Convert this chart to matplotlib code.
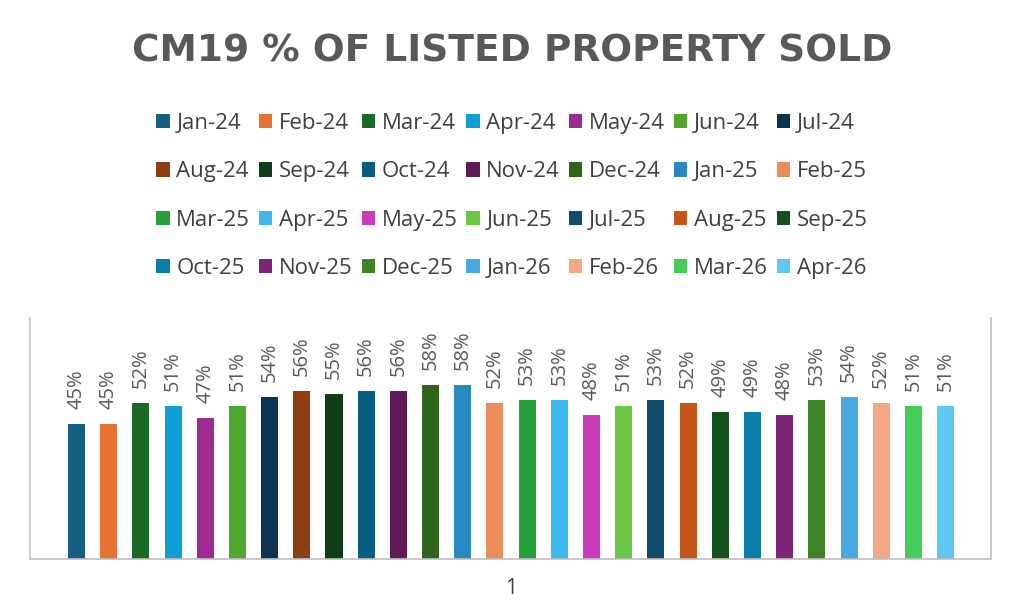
import matplotlib
matplotlib.use("Agg")
import matplotlib.pyplot as plt
from matplotlib.patches import Patch

months = ["Jan-24", "Feb-24", "Mar-24", "Apr-24", "May-24", "Jun-24", "Jul-24",
          "Aug-24", "Sep-24", "Oct-24", "Nov-24", "Dec-24", "Jan-25", "Feb-25",
          "Mar-25", "Apr-25", "May-25", "Jun-25", "Jul-25", "Aug-25", "Sep-25",
          "Oct-25", "Nov-25", "Dec-25", "Jan-26", "Feb-26", "Mar-26", "Apr-26"]
values = [45, 45, 52, 51, 47, 51, 54, 56, 55, 56, 56, 58, 58, 52,
          53, 53, 48, 51, 53, 52, 49, 49, 48, 53, 54, 52, 51, 51]
colors = ["#156082", "#E97132", "#196B24", "#0F9ED5", "#A02B93", "#4EA72E",
          "#0B3550", "#8C3F12", "#0F3D15", "#085E80", "#601A58", "#2F641C",
          "#2689C0", "#ED8D5B", "#25A03A", "#3BB8EE", "#C93BBA", "#6CC744",
          "#114A6A", "#C35618", "#13521C", "#0B7DAB", "#7E2477", "#3E8426",
          "#47A9DF", "#F2A983", "#45CB58", "#5EC7F2"]
category = "1"
title = "CM19 % OF LISTED PROPERTY SOLD"

plt.rcParams['font.family'] = ['Open Sans', 'DejaVu Sans']

fig = plt.figure(figsize=(10.24, 6.16), dpi=100)
ax = fig.add_axes([30/1024, 57/616, 961/1024, 241/616])

n = len(values)
xs = list(range(n))
bars = ax.bar(xs, values, width=0.53, color=colors)
for x, v in zip(xs, values):
    ax.annotate(f"{v}%", (x, v), xytext=(0, 11), textcoords="offset points",
                rotation=90, ha="center", va="bottom", fontsize=14.5, color="#595959")

ax.set_xlim(-1.445, 28.41)
ax.set_ylim(0, 80.3)
ax.set_yticks([])
ax.set_xticks([(n - 1) / 2])
ax.set_xticklabels([category], fontsize=15, color="#404040")
ax.tick_params(axis="x", length=0, pad=14)
for s in ["left", "right", "bottom"]:
    ax.spines[s].set_color("#BFBFBF")
    ax.spines[s].set_linewidth(1.2)
ax.spines["top"].set_visible(False)

fig.text(0.5, 1 - 51/616, title, ha="center", va="center", fontsize=27,
         fontweight="bold", color="#595959", family=["DejaVu Sans"])

handles = [Patch(facecolor=c, edgecolor="none", label=m) for m, c in zip(months, colors)]
ncol, nrow = 7, 4
order = [r * ncol + c for c in range(ncol) for r in range(nrow)]
fig.legend([handles[i] for i in order], [months[i] for i in order],
           ncol=ncol, loc="center", bbox_to_anchor=(0.5, 1 - 196/616),
           frameon=False, fontsize=16, handlelength=0.6, handleheight=0.6,
           handletextpad=0.3, columnspacing=0.4, labelspacing=1.23,
           labelcolor="#404040")

fig.savefig("out.png", dpi=100)
